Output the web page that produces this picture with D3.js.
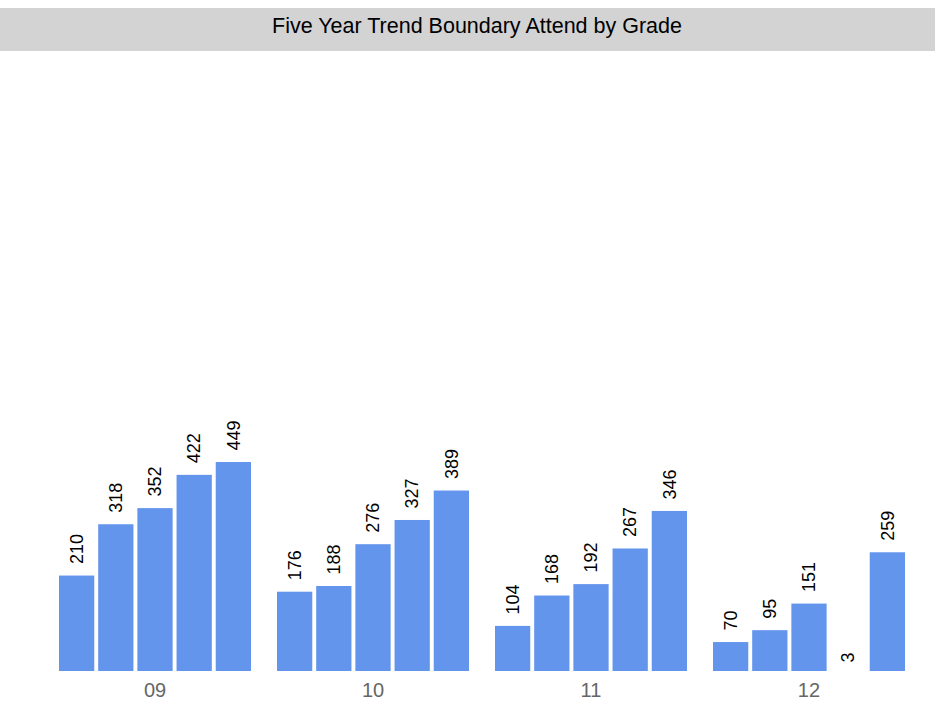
<!DOCTYPE html>
<html>
<head>
<meta charset="utf-8">
<script src="https://cdn.jsdelivr.net/npm/d3@7"></script>
<style>
  body { margin: 0; background: #fff; }
  text { font-family: Arial, "Liberation Sans", sans-serif; }
</style>
</head>
<body>
<svg></svg>
<script>
const size = {w: 941, h: 710};
const svg = d3.select('svg');

svg.attr('width', size.w)
    .attr('height', size.h);

// data
const grades = ['09', '10', '11', '12'];
const years = ['Year 1', 'Year 2', 'Year 3', 'Year 4', 'Year 5'];
const attend09 = [210, 318, 352, 422, 449];
const attend10 = [176, 188, 276, 327, 389];
const attend11 = [104, 168, 192, 267, 346];
const attend12 = [70, 95, 151, 3, 259];
const title = 'Five Year Trend Boundary Attend by Grade';

const series = [attend09, attend10, attend11, attend12];
const rows = [];
grades.forEach((g, i) => {
    years.forEach((y, j) => {
        rows.push({grade: g, year: y, value: series[i][j]});
    });
});

// title bar
svg.append('rect')
    .attr('x', 0)
    .attr('y', 8)
    .attr('width', 935)
    .attr('height', 43)
    .attr('fill', '#d3d3d3');

svg.append('text')
    .attr('x', 477)
    .attr('y', 33)
    .attr('text-anchor', 'middle')
    .attr('font-size', 21.5)
    .attr('fill', '#000')
    .text(title);

// scales
let x0 = d3.scaleBand()
    .domain(grades)
    .range([33, 931])
    .paddingInner(0.1193)
    .paddingOuter(0.1193);

let x1 = d3.scaleBand()
    .domain(years)
    .range([0, x0.bandwidth()])
    .paddingInner(0.1);

// zero sits a little below the visible baseline, bars are cut at the baseline
let y = d3.scaleLinear()
    .domain([0, 1200])
    .range([675.3, 105.3]);
const baseline = 671;

const chartG = svg.append('g').classed('bars', true);

chartG.selectAll('rect')
    .data(rows)
    .join('rect')
    .attr('x', d => x0(d.grade) + x1(d.year))
    .attr('y', d => Math.min(y(d.value), baseline))
    .attr('width', x1.bandwidth())
    .attr('height', d => Math.max(0, baseline - y(d.value)))
    .attr('fill', '#6495ed');

chartG.selectAll('text.value')
    .data(rows)
    .join('text')
    .classed('value', true)
    .attr('transform', d => {
        let cx = x0(d.grade) + x1(d.year) + x1.bandwidth() / 2;
        let cy = y(d.value) - 11.5;
        return `translate(${cx},${cy}) rotate(-90)`;
    })
    .attr('dy', '0.35em')
    .attr('font-size', 18)
    .attr('fill', '#000')
    .text(d => d.value);

// x axis labels
let xAxis = d3.axisBottom(x0).tickSize(0).tickPadding(12);
let axisG = svg.append('g')
    .attr('transform', `translate(0,${baseline})`)
    .call(xAxis);

axisG.select('.domain').remove();
axisG.selectAll('text')
    .attr('font-size', 20)
    .attr('font-family', 'Arial, "Liberation Sans", sans-serif')
    .attr('fill', '#666');
</script>
</body>
</html>
